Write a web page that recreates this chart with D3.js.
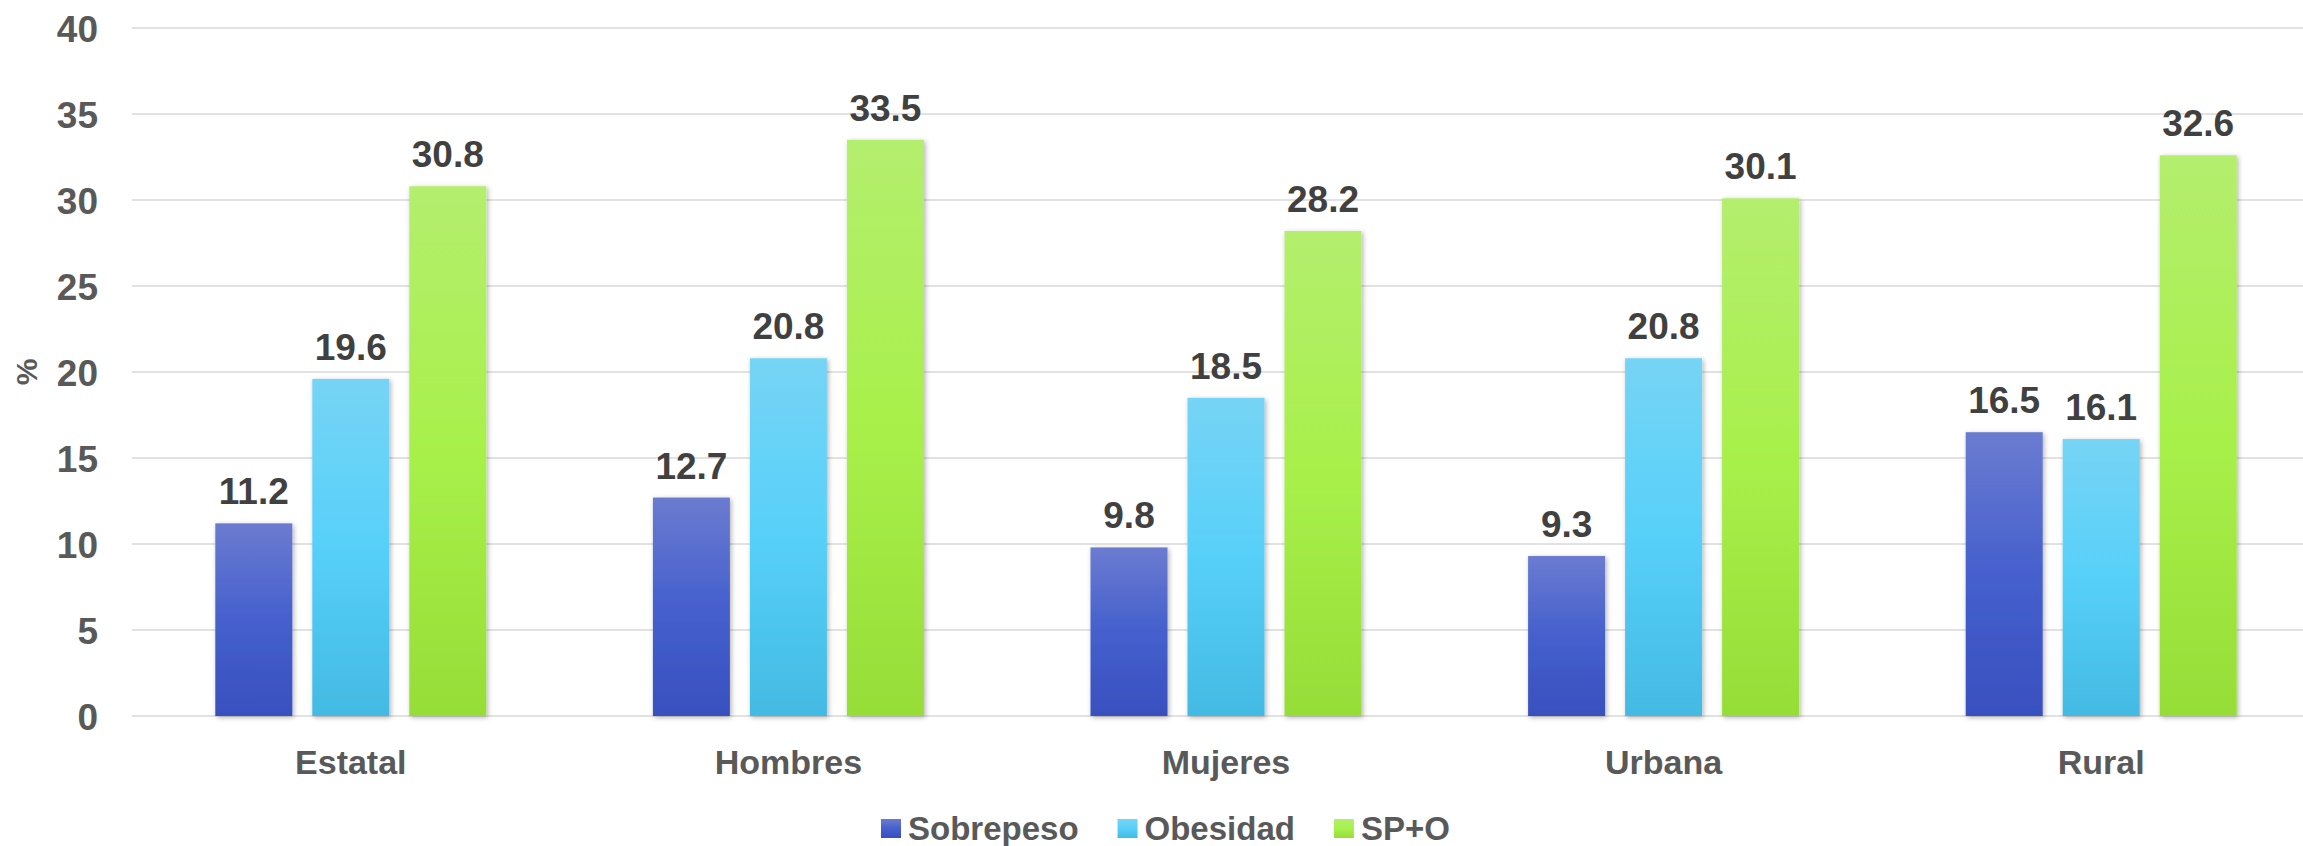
<!DOCTYPE html>
<html><head><meta charset="utf-8">
<script src="https://cdn.jsdelivr.net/npm/d3@7"></script>
<style>html,body{margin:0;padding:0;background:#fff;overflow:hidden}</style>
</head><body>
<svg id="chart" width="2303" height="846"></svg>
<script>
const categories = ["Estatal", "Hombres", "Mujeres", "Urbana", "Rural"];
const seriesNames = ["Sobrepeso", "Obesidad", "SP+O"];
const sobrepeso = [11.2, 12.7, 9.8, 9.3, 16.5];
const obesidad = [19.6, 20.8, 18.5, 20.8, 16.1];
const spo = [30.8, 33.5, 28.2, 30.1, 32.6];
const yTicks = [0, 5, 10, 15, 20, 25, 30, 35, 40];
const seriesValues = [sobrepeso, obesidad, spo];

(function () {
const svg = d3.select("#chart");
const W = 2303, H = 846;
const mLeft = 132, mRight = 2320, mTop = 28, mBottom = 716;
const FONT = "'Liberation Sans', Arial, sans-serif";

const defs = svg.append("defs");
const grads = [
  {id: "g0", stops: [["0%", "#6B7BD0"], ["50%", "#4560CD"], ["100%", "#3950BF"]]},
  {id: "g1", stops: [["0%", "#76D4F5"], ["50%", "#57D0F9"], ["100%", "#43BAE3"]]},
  {id: "g2", stops: [["0%", "#B4EE6E"], ["50%", "#A8F04A"], ["100%", "#97DD38"]]}
];
grads.forEach(g => {
  const lg = defs.append("linearGradient").attr("id", g.id)
    .attr("x1", 0).attr("y1", 0).attr("x2", 0).attr("y2", 1);
  g.stops.forEach(s => lg.append("stop").attr("offset", s[0]).attr("stop-color", s[1]));
});
const f = defs.append("filter").attr("id", "shadow").attr("x", "-20%").attr("y", "-5%").attr("width", "140%").attr("height", "110%");
f.append("feDropShadow").attr("dx", 1.5).attr("dy", 1.5).attr("stdDeviation", 2.5).attr("flood-color", "#000").attr("flood-opacity", 0.3);

const x0 = d3.scaleBand().domain(categories).range([mLeft, mRight]).padding(0);
const groupW = 271;
const x1 = d3.scaleBand().domain(seriesNames)
  .range([(x0.bandwidth() - groupW) / 2, (x0.bandwidth() + groupW) / 2])
  .paddingInner(0.2062).paddingOuter(0);
const y = d3.scaleLinear().domain([0, 40]).range([mBottom, mTop]);

// gridlines
svg.append("g").selectAll("line").data(yTicks).join("line")
  .attr("x1", mLeft).attr("x2", W)
  .attr("y1", d => y(d)).attr("y2", d => y(d))
  .attr("stroke", "#d9d9d9").attr("stroke-width", 1.6);

// y axis labels
const yAxis = d3.axisLeft(y).tickValues(yTicks).tickSize(0).tickPadding(0);
const ya = svg.append("g").attr("transform", "translate(98,0)").call(yAxis);
ya.select(".domain").remove();
ya.selectAll("text")
  .attr("font-family", FONT)
  .attr("font-weight", "bold").attr("font-size", 37).attr("fill", "#595959")
  .attr("dy", "0.36em");

// y title
svg.append("text")
  .attr("transform", `translate(37,${(mTop + mBottom) / 2}) rotate(-90)`)
  .attr("text-anchor", "middle")
  .attr("font-family", FONT).attr("font-weight", "bold")
  .attr("font-size", 30).attr("fill", "#595959").text("%");

// bars
const groups = svg.append("g").selectAll("g").data(categories).join("g")
  .attr("transform", d => `translate(${x0(d)},0)`);
seriesNames.forEach((s, si) => {
  groups.append("rect")
    .attr("x", x1(s)).attr("width", x1.bandwidth())
    .attr("y", (d, i) => y(seriesValues[si][i]))
    .attr("height", (d, i) => y(0) - y(seriesValues[si][i]))
    .attr("fill", `url(#g${si})`).attr("filter", "url(#shadow)");
  groups.append("text")
    .attr("x", x1(s) + x1.bandwidth() / 2)
    .attr("y", (d, i) => y(seriesValues[si][i]) - 19)
    .attr("text-anchor", "middle")
    .attr("font-family", FONT)
    .attr("font-weight", "bold").attr("font-size", 37).attr("fill", "#404040")
    .text((d, i) => seriesValues[si][i].toFixed(1));
});

// x axis labels
const xAxis = d3.axisBottom(x0).tickSize(0).tickPadding(0);
const xa = svg.append("g").attr("transform", `translate(0,${mBottom})`).call(xAxis);
xa.select(".domain").remove();
xa.selectAll("text")
  .attr("font-family", FONT)
  .attr("font-weight", "bold").attr("font-size", 34).attr("fill", "#595959")
  .attr("dy", 0).attr("y", 58);

// legend
const leg = svg.append("g");
let lx = 881;
seriesNames.forEach((s, si) => {
  leg.append("rect").attr("x", lx).attr("y", 819).attr("width", 20).attr("height", 19)
    .attr("fill", `url(#g${si})`);
  const t = leg.append("text").attr("x", lx + 27).attr("y", 840)
    .attr("font-family", "'Liberation Sans Narrow', 'Liberation Sans', Arial, sans-serif")
    .attr("font-weight", "bold").attr("font-size", 33).attr("fill", "#595959").text(s);
  lx = lx + 27 + t.node().getComputedTextLength() + 39;
});
})();
</script>
</body></html>
